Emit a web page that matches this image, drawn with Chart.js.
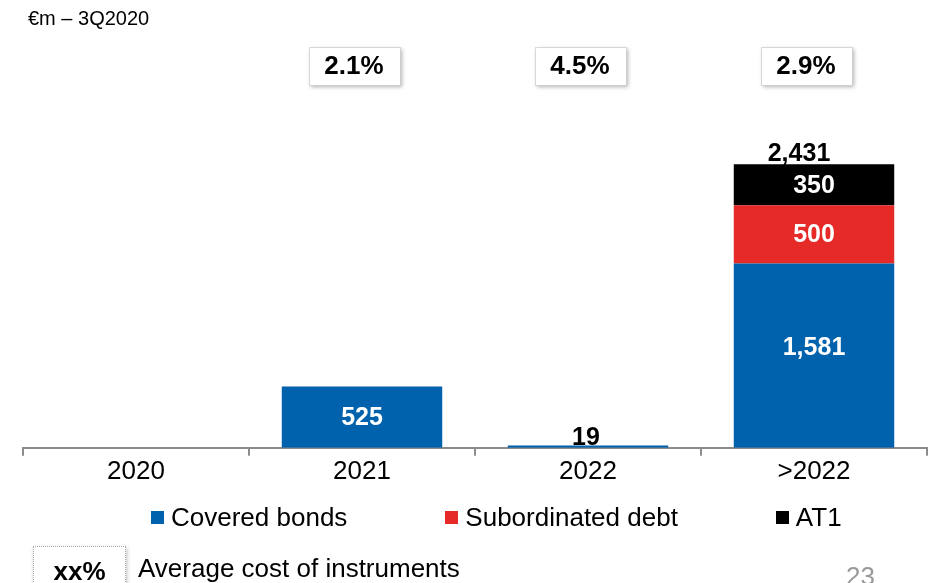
<!DOCTYPE html>
<html>
<head>
<meta charset="utf-8">
<title>Debt maturities</title>
<script src="https://cdn.jsdelivr.net/npm/chart.js@4/dist/chart.umd.min.js"></script>
<style>
  html, body { margin: 0; padding: 0; background: #fff; }
  body { width: 943px; height: 583px; position: relative; overflow: hidden;
         font-family: "Liberation Sans", Arial, sans-serif; color: #000; }
  #chart { position: absolute; left: 0; top: 0; }
  .subtitle { position: absolute; left: 28px; top: 6px; font-size: 20px; line-height: 24px; }
  #legend { position: absolute; left: 151px; top: 502px; display: flex; gap: 98px;
            font-size: 26px; line-height: 30px; }
  #legend .item { display: flex; align-items: center; }
  #legend .swatch { width: 13px; height: 13px; margin-right: 7px; }
  .key-box { position: absolute; left: 33px; top: 546px; width: 91px; height: 50px;
             border: 1px dotted #aaa; box-shadow: 1px 2px 4px rgba(0,0,0,0.25); background: #fff;
             font-weight: bold; font-size: 26px; line-height: 48px; text-align: center; }
  .key-text { position: absolute; left: 138px; top: 553px; font-size: 26px; line-height: 30px; }
  .page { position: absolute; left: 846px; top: 561px; font-size: 26px; line-height: 30px; color: #999; }
</style>
</head>
<body>
<canvas id="chart" width="943" height="583"></canvas>
<div class="subtitle">€m – 3Q2020</div>
<div id="legend"></div>
<div class="key-box">xx%</div>
<div class="key-text">Average cost of instruments</div>
<div class="page">23</div>

<script>
'use strict';

const categories = ['2020', '2021', '2022', '>2022'];
const coveredBonds = [null, 525, 19, 1581];
const subordinatedDebt = [null, null, null, 500];
const at1 = [null, null, null, 350];
const avgCost = [null, 2.1, 4.5, 2.9];   // %

const FONT = '"Liberation Sans", Arial, sans-serif';

function fmt(v) {
  return v.toLocaleString('en-US');
}

// numbers inside / above the bars, plus the stack total
const valueLabels = {
  id: 'valueLabels',
  afterDatasetsDraw(chart) {
    const ctx = chart.ctx;
    ctx.save();
    ctx.font = 'bold 25px ' + FONT;
    ctx.textAlign = 'center';
    chart.data.datasets.forEach((ds, i) => {
      chart.getDatasetMeta(i).data.forEach((bar, j) => {
        const v = ds.data[j];
        if (v == null) return;
        const h = bar.base - bar.y;
        if (h > 30) {
          // tall segments keep the label a bit above centre
          const lift = h > 120 ? 9 : 0;
          ctx.fillStyle = '#fff';
          ctx.textBaseline = 'middle';
          ctx.fillText(fmt(v), bar.x, (bar.y + bar.base) / 2 + 1 - lift);
        } else {
          ctx.fillStyle = '#000';
          ctx.textBaseline = 'alphabetic';
          ctx.fillText(fmt(v), bar.x - 2, bar.y - 1);
        }
      });
    });
    categories.forEach((c, j) => {
      const parts = chart.data.datasets.filter(ds => ds.data[j] != null);
      if (parts.length < 2) return;
      const total = parts.reduce((s, ds) => s + ds.data[j], 0);
      const x = chart.scales.x.getPixelForValue(j) - 15;
      const y = chart.scales.y.getPixelForValue(total);
      ctx.fillStyle = '#000';
      ctx.textBaseline = 'alphabetic';
      ctx.fillText(fmt(total), x, y - 3);
    });
    ctx.restore();
  }
};

// average cost boxes above each year
const costBoxes = {
  id: 'costBoxes',
  afterDraw(chart) {
    const ctx = chart.ctx;
    const w = 91, h = 38, cy = 66;
    avgCost.forEach((v, j) => {
      if (v == null) return;
      const cx = chart.scales.x.getPixelForValue(j) - 8;
      const x = Math.round(cx - w / 2) + 0.5, y = Math.round(cy - h / 2) + 0.5;
      ctx.save();
      ctx.shadowColor = 'rgba(0,0,0,0.3)';
      ctx.shadowBlur = 4;
      ctx.shadowOffsetX = 1;
      ctx.shadowOffsetY = 1;
      ctx.fillStyle = '#fff';
      ctx.fillRect(x, y, w, h);
      ctx.restore();
      ctx.save();
      ctx.strokeStyle = '#bbb';
      ctx.lineWidth = 1;
      ctx.setLineDash([1, 1]);
      ctx.strokeRect(x, y, w, h);
      ctx.restore();
      ctx.save();
      ctx.font = 'bold 26px ' + FONT;
      ctx.fillStyle = '#000';
      ctx.textAlign = 'center';
      ctx.textBaseline = 'middle';
      ctx.fillText(v.toFixed(1) + '%', cx, cy + 1);
      ctx.restore();
    });
  }
};

const chart = new Chart(document.getElementById('chart').getContext('2d'), {
  type: 'bar',
  data: {
    labels: categories,
    datasets: [
      { label: 'Covered bonds', data: coveredBonds, backgroundColor: '#0061AD' },
      { label: 'Subordinated debt', data: subordinatedDebt, backgroundColor: '#E52A28' },
      { label: 'AT1', data: at1, backgroundColor: '#000000' }
    ]
  },
  options: {
    responsive: false,
    animation: false,
    layout: { padding: { top: 98, left: 23, right: 16, bottom: 96 } },
    datasets: { bar: { categoryPercentage: 1, barPercentage: 0.71 } },
    scales: {
      x: {
        stacked: true,
        border: { color: '#8c8c8c', width: 2 },
        grid: { drawOnChartArea: false, color: '#8c8c8c', lineWidth: 2, tickLength: 8 },
        ticks: { color: '#000', padding: 0, font: { size: 26, family: FONT } }
      },
      y: { stacked: true, display: false, min: 0, max: 3000 }
    },
    plugins: {
      legend: { display: false },
      tooltip: { enabled: false }
    }
  },
  plugins: [valueLabels, costBoxes]
});

// legend as html, built from the chart's own legend items
const legendEl = document.getElementById('legend');
chart.options.plugins.legend.labels.generateLabels(chart).forEach(item => {
  const div = document.createElement('div');
  div.className = 'item';
  const sw = document.createElement('span');
  sw.className = 'swatch';
  sw.style.background = item.fillStyle;
  div.appendChild(sw);
  div.appendChild(document.createTextNode(item.text));
  legendEl.appendChild(div);
});
</script>
</body>
</html>
